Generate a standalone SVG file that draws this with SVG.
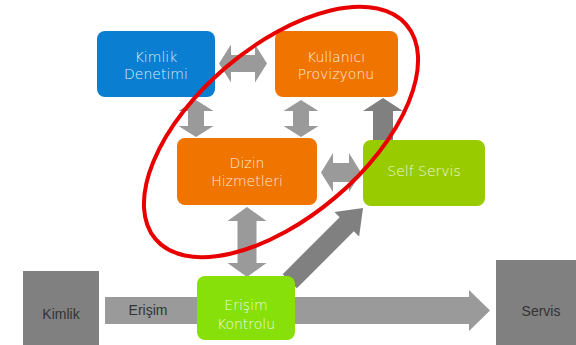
<svg xmlns="http://www.w3.org/2000/svg" width="576" height="345" viewBox="0 0 576 345">
  <style>
    .light { fill: #9a9a9a; }
    .dark { fill: #808080; }
    .box { stroke: none; }
    .lbl { font-family: "DejaVu Sans", "Liberation Sans", sans-serif; font-size: 14px; font-weight: 200; fill: #ffffff; fill-opacity: 0.88; text-anchor: middle; }
    .dlbl { font-family: "Liberation Sans", Arial, sans-serif; font-size: 14px; fill: #333333; text-anchor: middle; }
  </style>
  <rect width="576" height="345" fill="#ffffff"/>

  <g id="connectors">
    <!-- Kimlik -> Servis main flow -->
    <polygon class="light" points="105,297 469,297 469,290 490,310.5 469,331 469,324 105,324"/>
    <!-- Kimlik Denetimi <-> Kullanici Provizyonu -->
    <polygon class="light" points="219,63.5 231,44.5 231,55 255,55 255,44.5 267,63.5 255,82.5 255,72 231,72 231,82.5"/>
    <!-- Kimlik Denetimi <-> Dizin Hizmetleri -->
    <polygon class="light" points="196,100 213.5,111 204,111 204,126 213.5,126 196,137 178.5,126 188,126 188,111 178.5,111"/>
    <!-- Kullanici Provizyonu <-> Dizin Hizmetleri -->
    <polygon class="light" points="301,100 318.5,111 309,111 309,126 318.5,126 301,137 283.5,126 293,126 293,111 283.5,111"/>
    <!-- Self Servis -> Kullanici Provizyonu -->
    <polygon class="dark" points="383,98 403,111 393,111 393,140 373,140 373,111 363,111"/>
    <!-- Dizin Hizmetleri <-> Self Servis -->
    <polygon class="light" points="321,172.5 333,153 333,163 349,163 349,153 361,172.5 349,192 349,182 333,182 333,192"/>
    <!-- Dizin Hizmetleri <-> Erisim Kontrolu -->
    <polygon class="light" points="247,207 266.5,221 256.5,221 256.5,263 266.5,263 247,277 227.5,263 237.5,263 237.5,221 227.5,221"/>
    <!-- Erisim Kontrolu -> Self Servis -->
    <polygon class="dark" transform="translate(294,277) rotate(-45)" points="-6,-10 74.6,-10 74.6,-17.5 97.6,0 74.6,17.5 74.6,10 -6,10"/>
  </g>

  <g id="kimlik">
    <rect class="box" x="23" y="271" width="76" height="74" fill="#808080"/>
    <text class="dlbl" x="61" y="319">Kimlik</text>
  </g>
  <g id="servis">
    <rect class="box" x="496" y="260" width="80" height="85" fill="#808080"/>
    <text class="dlbl" x="541" y="316">Servis</text>
  </g>
  <text class="dlbl" x="148" y="315" fill="#4a3c3c">Erişim</text>

  <g id="kimlik-denetimi">
    <rect class="box" x="97" y="31" width="118" height="66" rx="8" fill="#0a7fd2"/>
    <text class="lbl" x="156" y="62">Kimlik</text>
    <text class="lbl" x="156" y="79">Denetimi</text>
  </g>
  <g id="kullanici-provizyonu">
    <rect class="box" x="275" y="31" width="123" height="66" rx="8" fill="#f07500"/>
    <text class="lbl" x="336" y="62">Kullanıcı</text>
    <text class="lbl" x="336" y="79">Provizyonu</text>
  </g>
  <g id="dizin-hizmetleri">
    <rect class="box" x="177" y="138" width="140" height="67" rx="8" fill="#f07500"/>
    <text class="lbl" x="247" y="168">Dizin</text>
    <text class="lbl" x="247" y="186">Hizmetleri</text>
  </g>
  <g id="self-servis">
    <rect class="box" x="363" y="140" width="122" height="66" rx="8" fill="#99cc00"/>
    <text class="lbl" x="424" y="176">Self Servis</text>
  </g>
  <g id="erisim-kontrolu">
    <rect class="box" x="197" y="276" width="98" height="64" rx="8" fill="#88e00a"/>
    <text class="lbl" x="246" y="310">Erişim</text>
    <text class="lbl" x="246" y="329">Kontrolu</text>
  </g>

  <!-- highlight ring around the identity management core -->
  <ellipse cx="281" cy="132" rx="165" ry="85" transform="rotate(-40.5 281 132)" fill="none" stroke="#e80000" stroke-width="4"/>
</svg>
